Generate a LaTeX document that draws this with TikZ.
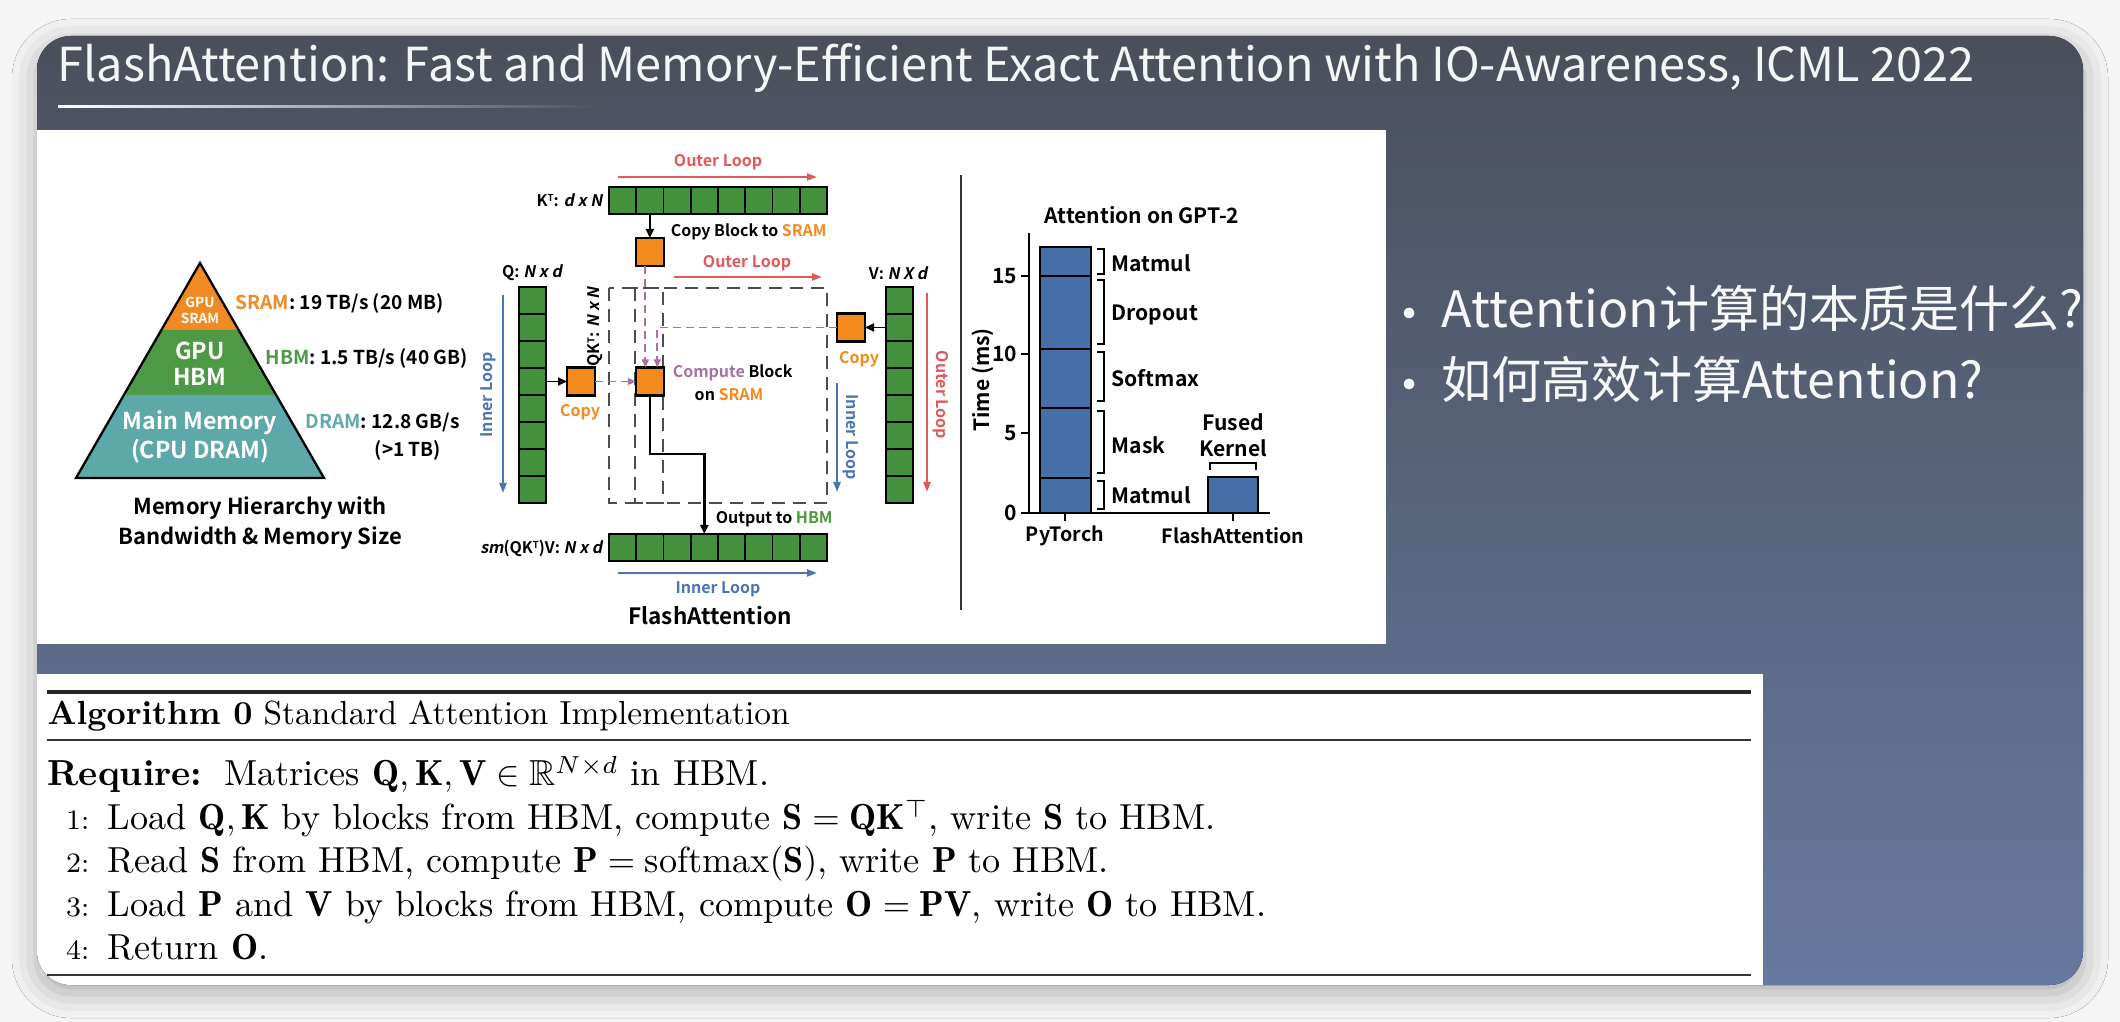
\documentclass[tikz,border=0pt]{standalone}
\usepackage{fontspec}
\usepackage{amsmath,amssymb}
\usetikzlibrary{arrows.meta,shadows.blur,fadings}
\newfontfamily\cjk{Noto Sans CJK SC}
\newfontfamily\figfont{Noto Sans CJK SC}[BoldFont={* Bold},ItalicFont={*},ItalicFeatures={FakeSlant=0.2},BoldItalicFont={* Bold},BoldItalicFeatures={FakeSlant=0.2}]
\newcommand{\supT}{\raisebox{0.55ex}{\scalebox{0.6}{T}}}

\definecolor{pageg}{HTML}{F5F5F5}
\definecolor{cardtop}{HTML}{4A4F5A}
\definecolor{cardbot}{HTML}{6879A0}
\definecolor{cellg}{HTML}{43913C}
\definecolor{blkor}{HTML}{F28A1E}
\definecolor{lred}{HTML}{E0585A}
\definecolor{lblue}{HTML}{4A75B0}
\definecolor{purp}{HTML}{A374A3}
\definecolor{hbmg}{HTML}{4C9A3C}
\definecolor{dramt}{HTML}{5FAAA9}
\definecolor{barb}{HTML}{4670A7}
\definecolor{trior}{HTML}{F08A24}
\definecolor{trigr}{HTML}{4C9A45}
\definecolor{tritl}{HTML}{5DA8A8}

\tikzset{
  cellbox/.style={draw=black, fill=cellg, line width=0.55pt, minimum width=2.725mm, minimum height=2.7mm, inner sep=0pt, outer sep=0pt},
  srambox/.style={draw=black, fill=blkor, line width=0.6pt, minimum size=2.8mm, inner sep=0pt, outer sep=0pt},
  figlbl/.style={font=\figfont\bfseries\fontsize{4.55}{5.5}\selectfont, inner sep=0.3pt},
  triin/.style={font=\figfont\bfseries\fontsize{6.6}{7.5}\selectfont, text=white, inner sep=0pt},
  trilbl/.style={font=\figfont\bfseries\fontsize{5.45}{6.5}\selectfont, inner sep=0pt},
  caplbl/.style={font=\figfont\bfseries\fontsize{6.25}{7.5}\selectfont, inner sep=0pt},
  chartlbl/.style={font=\figfont\bfseries\fontsize{6}{7}\selectfont, inner sep=0pt},
  blkarrow/.style={line width=0.55pt, -{Triangle[length=0.9mm,width=0.8mm]}},
  purparrow/.style={purp, line width=0.5pt, dash pattern=on 0.8mm off 0.5mm, -{Triangle[length=0.8mm,width=0.7mm]}},
  redloop/.style={lred, line width=0.6pt, -{Triangle[length=1mm,width=0.7mm]}},
  blueloop/.style={lblue, line width=0.6pt, -{Triangle[length=1mm,width=0.7mm]}},
  blockframe/.style={black!70, line width=0.45pt, dash pattern=on 1.3mm off 0.8mm},
  algtext/.style={font=\fontsize{10.3}{12.5}\selectfont, inner sep=0pt, anchor=base west},
  algcap/.style={font=\fontsize{9.5}{11}\selectfont, inner sep=0pt, anchor=base west},
  algnum/.style={font=\fontsize{8}{10}\selectfont, inner sep=0pt, anchor=base east},
  bullet/.style={font=\cjk\fontsize{14.25}{17}\selectfont, text=white!96!cardtop, inner sep=0pt}
}

\begin{document}
\begin{tikzpicture}[x=0.1mm, y=-0.1mm]
\useasboundingbox (0,0) rectangle (2120,1022);
\fill[pageg] (0,0) rectangle (2120,1022);

% slide card
\fill[top color=cardtop, bottom color=cardbot, rounded corners=3.4mm,
      blur shadow={shadow xshift=0mm, shadow yshift=-0.8mm, shadow blur radius=2.5mm, shadow opacity=30}]
  (37,36) rectangle (2083,985);

% title
\node[anchor=base west, inner sep=0pt, text=white!94!cardtop] (title) at (57,82)
  {\resizebox{191.7mm}{!}{\cjk FlashAttention: Fast and Memory-Efficient Exact Attention with IO-Awareness, ICML 2022}};
\fill[white, path fading=east] (58,105.5) rectangle (600,108.5);

% bullets
\node[bullet] (b1dot) at (1410,320) {•};
\node[bullet, anchor=west] (b1) at (1441,308) {Attention计算的本质是什么?};
\node[bullet] (b2dot) at (1410,391) {•};
\node[bullet, anchor=west] (b2) at (1441,379) {如何高效计算Attention?};

\begin{scope}
\clip[rounded corners=3.4mm] (37,36) rectangle (2083,985);
\fill[white] (37,130) rectangle (1386,644);
\fill[white] (37,674) rectangle (1763,990);
\end{scope}

% ---------- memory hierarchy pyramid ----------
\fill[trior] (200,263) -- (238.6,330) -- (161.4,330) -- cycle;
\fill[trigr] (161.4,330) -- (238.6,330) -- (276.1,395) -- (123.9,395) -- cycle;
\fill[tritl] (123.9,395) -- (276.1,395) -- (324,478) -- (76,478) -- cycle;
\draw[line width=0.65pt, line join=miter] (200,263) -- (324,478) -- (76,478) -- cycle;
\node[font=\figfont\bfseries\fontsize{3.9}{4.5}\selectfont, text=white, inner sep=0pt] (gs1) at (200,302) {GPU};
\node[font=\figfont\bfseries\fontsize{3.9}{4.5}\selectfont, text=white, inner sep=0pt] (gs2) at (200,318) {SRAM};
\node[triin] (gh1) at (200,351) {GPU};
\node[triin] (gh2) at (200,377) {HBM};
\node[triin] (mm1) at (200,423) {Main Memory};
\node[triin] (mm2) at (200,451) {(CPU DRAM)};
\node[trilbl, anchor=west] (sramlbl) at (235,303) {\textcolor{trior}{SRAM}: 19 TB/s (20 MB)};
\node[trilbl, anchor=west] (hbmlbl) at (265,358) {\textcolor{trigr}{HBM}: 1.5 TB/s (40 GB)};
\node[trilbl, anchor=west] (dramlbl) at (305,423) {\textcolor{dramt}{DRAM}: 12.8 GB/s};
\node[trilbl] (dramsz) at (408,450) {(>1 TB)};
\node[caplbl] (cap1) at (260,508) {Memory Hierarchy with};
\node[caplbl] (cap2) at (260,538) {Bandwidth \& Memory Size};

% ---------- FlashAttention tiling ----------
\foreach \i in {0,...,7} {
  \node[cellbox] (k\i) at ({622.6+27.25*\i},200.5) {};
  \node[cellbox] (o\i) at ({622.6+27.25*\i},547.5) {};
  \node[cellbox] (q\i) at (532.5,{300.5+27*\i}) {};
  \node[cellbox] (v\i) at (899.5,{300.5+27*\i}) {};
}
\draw[blockframe] (609,288) rectangle (827,503);
\draw[blockframe] (635,288) rectangle (663,503);

\node[srambox] (ksram) at (649.85,252) {};
\node[srambox] (qsram) at (581,381.5) {};
\node[srambox] (comp) at (649.85,381.5) {};
\node[srambox] (vsram) at (851,327.5) {};

\draw[blkarrow] (k1.south) -- (ksram.north);
\draw[blkarrow] (q3.east) -- (qsram.west);
\draw[blkarrow] (v1.west) -- (vsram.east);
\draw[purparrow] (qsram.east) -- (comp.west);
\draw[purparrow] ([xshift=-0.45mm]ksram.south) -- ([xshift=-0.45mm]comp.north);
\draw[purparrow] (vsram.west) -| ([xshift=0.75mm]comp.north);
\draw[blkarrow, line width=0.7pt] (comp.south) -- ++(0,58.5) -| (o3.north);

\node[figlbl, anchor=east] (klbl) at (604,200) {K\supT: \textit{d x N}};
\node[figlbl] (qlbl) at (532,273) {Q: \textit{N x d}};
\node[figlbl] (vlbl) at (898,273) {V: \textit{N X d}};
\node[figlbl, anchor=east] (olbl) at (604,548) {\textit{sm}(QK\supT)V: \textit{N x d}};
\node[figlbl, rotate=90] (qklbl) at (595,327) {QK\supT: \textit{N x N}};
\node[figlbl, anchor=west] (cpylbl) at (669,232) {Copy Block to \textcolor{blkor}{SRAM}};
\node[figlbl, text=blkor] (qcopy) at (580,412) {Copy};
\node[figlbl, text=blkor] (vcopy) at (859,359) {Copy};
\node[figlbl, anchor=west] (complbl) at (671,373) {\textcolor{purp}{Compute} Block};
\node[figlbl] (onsram) at (729,395) {on \textcolor{blkor}{SRAM}};
\node[figlbl, anchor=west] (outlbl) at (714,519) {Output to \textcolor{hbmg}{HBM}};

% loop arrows
\coordinate (ol1a) at (618,177); \coordinate (ol1b) at (817,177);
\draw[redloop] (ol1a) -- (ol1b);
\node[figlbl, text=lred] (ol1) at (718,162) {Outer Loop};
\coordinate (ol2a) at (674,277); \coordinate (ol2b) at (822,277);
\draw[redloop] (ol2a) -- (ol2b);
\node[figlbl, text=lred] (ol2) at (747,263) {Outer Loop};
\coordinate (ol3a) at (927,293); \coordinate (ol3b) at (927,492);
\draw[redloop] (ol3a) -- (ol3b);
\node[figlbl, text=lred, rotate=-90] (ol3) at (941,395) {Outer Loop};
\coordinate (il1a) at (503,295); \coordinate (il1b) at (503,493);
\draw[blueloop] (il1a) -- (il1b);
\node[figlbl, text=lblue, rotate=90] (il1) at (488,395) {Inner Loop};
\coordinate (il2a) at (837,383); \coordinate (il2b) at (837,492);
\draw[blueloop] (il2a) -- (il2b);
\node[figlbl, text=lblue, rotate=-90] (il2) at (851,437) {Inner Loop};
\coordinate (il3a) at (618,573); \coordinate (il3b) at (817,573);
\draw[blueloop] (il3a) -- (il3b);
\node[figlbl, text=lblue] (il3) at (718,589) {Inner Loop};

\node[font=\figfont\bfseries\fontsize{6.4}{7.5}\selectfont, inner sep=0pt] (facap) at (710,616) {FlashAttention};

% separator
\coordinate (sepa) at (961,175); \coordinate (sepb) at (961,610);
\draw[line width=0.7pt, black!80] (sepa) -- (sepb);

% ---------- GPT-2 timing chart ----------
\node[chartlbl] (ctitle) at (1142,215) {Attention on GPT-2};
\coordinate (ytop) at (1029,233); \coordinate (orig) at (1029,513); \coordinate (xend) at (1270,513);
\fill[barb] (1040,247) rectangle (1091,513);
\fill[barb] (1208,477) rectangle (1258,513);
\draw[line width=0.75pt] (1040,513) -- (1040,247) -- (1091,247) -- (1091,513);
\foreach \yy in {478,408,349,276} \draw[line width=0.75pt] (1040,\yy) -- (1091,\yy);
\draw[line width=0.75pt] (1208,513) -- (1208,477) -- (1258,477) -- (1258,513);
\draw[line width=0.65pt] (ytop) -- (orig) -- (xend);
\foreach \yy/\tl in {513/0,433/5,354/10,276/15} {
  \draw[line width=0.6pt] (1021,\yy) -- (1029,\yy);
  \node[chartlbl, anchor=east] at (1018,\yy) {\tl};
}
\draw[line width=0.6pt] (1065,513) -- (1065,521);
\draw[line width=0.6pt] (1233,513) -- (1233,521);
\node[chartlbl, rotate=90] (ylbl) at (983,380) {Time (ms)};
\node[chartlbl, font=\figfont\bfseries\fontsize{5.6}{6.5}\selectfont] (pt) at (1065,536) {PyTorch};
\node[chartlbl, font=\figfont\bfseries\fontsize{5.6}{6.5}\selectfont] (fa) at (1233,536) {FlashAttention};
\foreach \ya/\yb/\yl/\tl in {249/274/263/Matmul,280/344/315/Dropout,352/401/378/Softmax,411/473/445/Mask,481/509/495/Matmul} {
  \draw[line width=0.6pt] (1097,\ya) -- (1104,\ya) -- (1104,\yb) -- (1097,\yb);
  \node[chartlbl, anchor=west] at (1111,\yl) {\tl};
}
\draw[line width=0.6pt] (1210,470) -- (1210,463) -- (1256,463) -- (1256,470);
\node[chartlbl] (fused) at (1233,422) {Fused};
\node[chartlbl] (kernel) at (1233,448) {Kernel};

% ---------- algorithm box ----------
\draw[line width=0.9pt, black!85] (47,692) -- (1751,692);
\draw[line width=0.55pt, black!80] (47,740) -- (1751,740);
\draw[line width=0.55pt, black!80] (47,975) -- (1751,975);
\node[algcap] (algtitle) at (47,725) {\textbf{Algorithm 0} Standard Attention Implementation};
\node[algtext] (req) at (47,786) {\textbf{Require:}\hspace{0.6em}Matrices $\mathbf{Q},\mathbf{K},\mathbf{V}\in\mathbb{R}^{N\times d}$ in HBM.};
\node[algnum] (n1) at (90,830) {1:};
\node[algtext] (l1) at (107,830) {Load $\mathbf{Q},\mathbf{K}$ by blocks from HBM, compute $\mathbf{S}=\mathbf{Q}\mathbf{K}^{\top}$, write $\mathbf{S}$ to HBM.};
\node[algnum] (n2) at (90,873) {2:};
\node[algtext] (l2) at (107,873) {Read $\mathbf{S}$ from HBM, compute $\mathbf{P}=\mathrm{softmax}(\mathbf{S})$, write $\mathbf{P}$ to HBM.};
\node[algnum] (n3) at (90,917) {3:};
\node[algtext] (l3) at (107,917) {Load $\mathbf{P}$ and $\mathbf{V}$ by blocks from HBM, compute $\mathbf{O}=\mathbf{P}\mathbf{V}$, write $\mathbf{O}$ to HBM.};
\node[algnum] (n4) at (90,960) {4:};
\node[algtext] (l4) at (107,960) {Return $\mathbf{O}$.};
\end{tikzpicture}
\end{document}
